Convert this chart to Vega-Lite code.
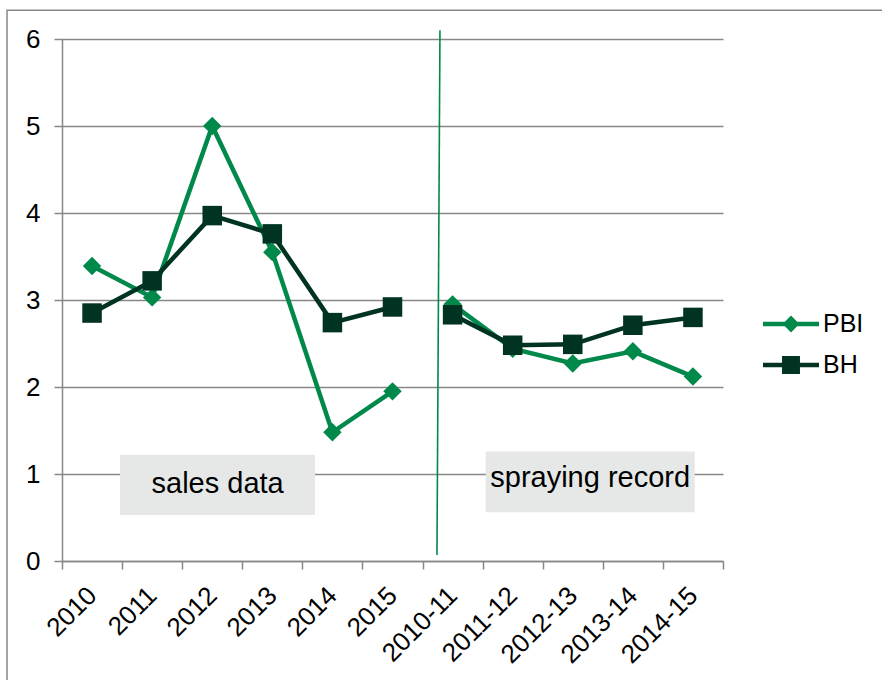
{
  "$schema": "https://vega.github.io/schema/vega-lite/v6.json",
  "width": 661,
  "height": 522,
  "autosize": "none",
  "padding": {"left": 62, "top": 39, "right": 159, "bottom": 119},
  "background": "white",
  "config": {
    "view": {"stroke": null},
    "font": "Liberation Sans",
    "axis": {
      "labelColor": "#000000",
      "labelFont": "Liberation Sans",
      "tickSize": 8,
      "tickColor": "#878787",
      "tickWidth": 1.5,
      "domainColor": "#878787",
      "domainWidth": 1.5,
      "gridColor": "#878787",
      "gridWidth": 1.5
    }
  },
  "datasets": {
    "series": [
      {"cat": "2010", "series": "PBI", "value": 3.39, "part": "sales"},
      {"cat": "2011", "series": "PBI", "value": 3.03, "part": "sales"},
      {"cat": "2012", "series": "PBI", "value": 5.0, "part": "sales"},
      {"cat": "2013", "series": "PBI", "value": 3.55, "part": "sales"},
      {"cat": "2014", "series": "PBI", "value": 1.48, "part": "sales"},
      {"cat": "2015", "series": "PBI", "value": 1.95, "part": "sales"},
      {"cat": "2010-11", "series": "PBI", "value": 2.95, "part": "spraying"},
      {"cat": "2011-12", "series": "PBI", "value": 2.44, "part": "spraying"},
      {"cat": "2012-13", "series": "PBI", "value": 2.27, "part": "spraying"},
      {"cat": "2013-14", "series": "PBI", "value": 2.41, "part": "spraying"},
      {"cat": "2014-15", "series": "PBI", "value": 2.12, "part": "spraying"},
      {"cat": "2010", "series": "BH", "value": 2.85, "part": "sales"},
      {"cat": "2011", "series": "BH", "value": 3.22, "part": "sales"},
      {"cat": "2012", "series": "BH", "value": 3.97, "part": "sales"},
      {"cat": "2013", "series": "BH", "value": 3.76, "part": "sales"},
      {"cat": "2014", "series": "BH", "value": 2.74, "part": "sales"},
      {"cat": "2015", "series": "BH", "value": 2.92, "part": "sales"},
      {"cat": "2010-11", "series": "BH", "value": 2.83, "part": "spraying"},
      {"cat": "2011-12", "series": "BH", "value": 2.48, "part": "spraying"},
      {"cat": "2012-13", "series": "BH", "value": 2.49, "part": "spraying"},
      {"cat": "2013-14", "series": "BH", "value": 2.71, "part": "spraying"},
      {"cat": "2014-15", "series": "BH", "value": 2.8, "part": "spraying"}
    ],
    "boxes": [
      {"label": "sales data", "x1": 0.965, "x2": 4.21, "y1": 0.53, "y2": 1.22, "tx": 2.59, "ty": 0.88},
      {"label": "spraying record", "x1": 7.05, "x2": 10.53, "y1": 0.56, "y2": 1.26, "tx": 8.79, "ty": 0.95}
    ],
    "divider": [
      {"xa": 6.29, "ya": 6.1, "xb": 6.24, "yb": 0.07}
    ],
    "frame": [
      {"fx1": -0.915, "fx2": 15.0, "fy1": -1.6, "fy2": 6.33}
    ]
  },
  "resolve": {"scale": {"x": "independent"}},
  "layer": [
    {
      "layer": [
        {
          "data": {"name": "frame"},
          "mark": {"type": "rect", "fill": null, "stroke": "#878787", "strokeWidth": 1.5},
          "encoding": {
            "x": {"field": "fx1", "type": "quantitative", "scale": {"domain": [0, 11], "nice": false, "zero": false}, "axis": null},
            "x2": {"field": "fx2"},
            "y": {
              "field": "fy1",
              "type": "quantitative",
              "scale": {"domain": [0, 6], "nice": false},
              "axis": {"title": null, "values": [0, 1, 2, 3, 4, 5, 6], "format": "d", "labelPadding": 14, "labelFontSize": 26, "grid": true}
            },
            "y2": {"field": "fy2"}
          }
        },
        {
          "data": {"name": "boxes"},
          "mark": {"type": "rect", "fill": "#e5e8e7"},
          "encoding": {
            "x": {"field": "x1", "type": "quantitative"},
            "x2": {"field": "x2"},
            "y": {"field": "y1", "type": "quantitative"},
            "y2": {"field": "y2"}
          }
        },
        {
          "data": {"name": "boxes"},
          "mark": {"type": "text", "fontSize": 29, "color": "#000000", "align": "center", "baseline": "middle"},
          "encoding": {
            "x": {"field": "tx", "type": "quantitative"},
            "y": {"field": "ty", "type": "quantitative"},
            "text": {"field": "label"}
          }
        },
        {
          "data": {"name": "divider"},
          "mark": {"type": "rule", "color": "#00894a", "strokeWidth": 1.6},
          "encoding": {
            "x": {"field": "xa", "type": "quantitative"},
            "x2": {"field": "xb"},
            "y": {"field": "ya", "type": "quantitative"},
            "y2": {"field": "yb"}
          }
        }
      ]
    },
    {
      "data": {"name": "series"},
      "encoding": {
        "x": {
          "field": "cat",
          "type": "nominal",
          "sort": null,
          "scale": {"type": "band", "domain": ["2010", "2011", "2012", "2013", "2014", "2015", "2010-11", "2011-12", "2012-13", "2013-14", "2014-15"], "paddingInner": 0, "paddingOuter": 0},
          "axis": {
            "orient": "bottom",
            "title": null,
            "labelAngle": -45,
            "labelAlign": "right",
            "labelBaseline": "middle",
            "labelFontSize": 26,
            "labelPadding": 22,
            "tickBand": "extent",
            "grid": false
          }
        },
        "y": {
          "field": "value",
          "type": "quantitative",
          "scale": {"domain": [0, 6], "nice": false},
          "axis": {"title": null, "values": [0, 1, 2, 3, 4, 5, 6], "format": "d", "labelPadding": 14, "labelFontSize": 26, "grid": true}
        },
        "color": {
          "field": "series",
          "type": "nominal",
          "scale": {"domain": ["PBI", "BH"], "range": ["#00894a", "#003322"]},
          "legend": {
            "orient": "none",
            "legendX": 701,
            "legendY": 257,
            "title": null,
            "symbolSize": 3136,
            "labelFontSize": 25,
            "labelColor": "#000000",
            "labelOffset": 4,
            "rowPadding": -9,
            "padding": 0,
            "encode": {
              "symbols": {
                "update": {
                  "shape": {"signal": "datum.value === 'PBI' ? 'M-1,-0.08H-0.22L0,-0.3L0.22,-0.08H1V0.08H0.22L0,0.3L-0.22,0.08H-1Z' : 'M-1,-0.08H-0.32V-0.32H0.32V-0.08H1V0.08H0.32V0.32H-0.32V0.08H-1Z'"},
                  "fill": {"signal": "datum.value === 'PBI' ? '#00894a' : '#003322'"},
                  "stroke": {"value": "transparent"},
                  "strokeWidth": {"value": 0},
                  "opacity": {"value": 1}
                }
              }
            }
          }
        }
      },
      "layer": [
        {
          "transform": [{"filter": "datum.series === 'PBI'"}],
          "mark": {"type": "line", "strokeWidth": 4.5},
          "encoding": {"detail": {"field": "part"}}
        },
        {
          "transform": [{"filter": "datum.series === 'PBI'"}],
          "mark": {"type": "point", "shape": "diamond", "filled": true, "size": 340, "opacity": 1}
        },
        {
          "transform": [{"filter": "datum.series === 'BH'"}],
          "mark": {"type": "line", "strokeWidth": 4.5},
          "encoding": {"detail": {"field": "part"}}
        },
        {
          "transform": [{"filter": "datum.series === 'BH'"}],
          "mark": {"type": "square", "filled": true, "size": 380, "opacity": 1}
        }
      ]
    }
  ]
}
